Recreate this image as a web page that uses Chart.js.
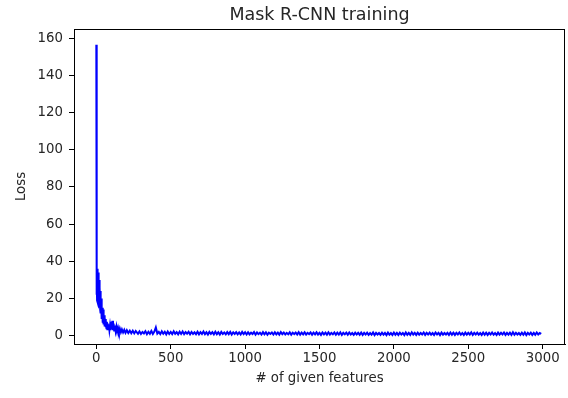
<!DOCTYPE html>
<html>
<head>
<meta charset="utf-8">
<script src="https://cdn.jsdelivr.net/npm/chart.js@4"></script>
<style>
  html, body { margin: 0; padding: 0; background: #fff; }
  #wrap { width: 568px; height: 398px; position: relative; }
</style>
</head>
<body>
<div id="wrap"><canvas id="c" width="568" height="398"></canvas></div>
<script>
// ---- data ----
const headIterations = [0,1,2,3,4,5,6,7,8,9,10,11,12,13,14,15,16,17,18,19,20,
  22,24,26,28,30,32,34,36,38,40,42,44,46,48,50,
  53,56,59,62,65,68,71,74,77,80,
  84,88,92,96,100,104,108,112,116,120,
  125,130,135,140,146,152,158,165,172,180,188,196,205,215,225,235,245,255,265];
const headLoss = [156.5,30,37,22,35,19,33,24,36,18,31,21,34,17,29,20,32,16,27,18,30,
  15,26,14,24,12,20,10,17,9,13,7,15,8,14,6,
  11,5,9,4.5,8,4,7.5,3.5,6.5,3.5,
  6,3,5.5,3,7.5,3.5,8,3,6.5,2.8,
  5.5,2.5,4.8,2.2,4.2,2,3.8,1.8,3.4,1.7,3.1,1.5,2.9,1.4,2.7,1.3,2.6,1.2,2.5];
const tailIterations = [
  280,290,300,310,320,330,340,350,360,370,380,390,400,410,420,430,440,450,460,470,
  480,490,500,510,520,530,540,550,560,570,580,590,600,610,620,630,640,650,660,670,
  680,690,700,710,720,730,740,750,760,770,780,790,800,810,820,830,840,850,860,870,
  880,890,900,910,920,930,940,950,960,970,980,990,1000,
  1010,1020,1030,1040,1050,1060,1070,1080,1090,1100,1110,1120,1130,1140,1150,1160,1170,1180,1190,1200,
  1210,1220,1230,1240,1250,1260,1270,1280,1290,1300,1310,1320,1330,1340,1350,1360,1370,1380,1390,1400,
  1410,1420,1430,1440,1450,1460,1470,1480,1490,1500,1510,1520,1530,1540,1550,1560,1570,1580,1590,1600,
  1610,1620,1630,1640,1650,1660,1670,1680,1690,1700,1710,1720,1730,1740,1750,1760,1770,1780,1790,1800,
  1810,1820,1830,1840,1850,1860,1870,1880,1890,1900,1910,1920,1930,1940,1950,1960,1970,1980,1990,2000,
  2010,2020,2030,2040,2050,2060,2070,2080,2090,2100,2110,2120,2130,2140,2150,2160,2170,2180,2190,2200,
  2210,2220,2230,2240,2250,2260,2270,2280,2290,2300,2310,2320,2330,2340,2350,2360,2370,2380,2390,2400,
  2410,2420,2430,2440,2450,2460,2470,2480,2490,2500,2510,2520,2530,2540,2550,2560,2570,2580,2590,2600,
  2610,2620,2630,2640,2650,2660,2670,2680,2690,2700,2710,2720,2730,2740,2750,2760,2770,2780,2790,2800,
  2810,2820,2830,2840,2850,2860,2870,2880,2890,2900,2910,2920,2930,2940,2950,2960,2970,2980,2990];
const tailLoss = [
  1.0,2.3,0.9,2.0,1.2,2.4,0.8,2.1,1.0,2.5,0.9,2.2,4.4,1.1,2.0,0.8,2.3,1.0,2.1,0.7,
  2.2,0.9,2.0,0.8,2.3,1.0,1.9,0.7,2.1,0.9,2.2,0.8,1.9,1.0,2.1,0.7,2.0,0.9,1.8,0.8,
  2.1,0.7,1.9,0.9,2.2,0.8,1.8,0.6,2.0,0.9,1.9,0.7,2.1,0.8,1.8,0.6,2.0,0.9,1.7,0.7,
  1.9,0.8,2.0,0.6,1.8,0.9,1.9,0.7,1.7,0.6,2.0,0.8,1.8,
  0.6,1.8,0.7,1.6,0.9,1.9,0.5,1.7,0.8,1.6,0.6,1.9,0.7,1.8,0.5,1.6,0.9,1.7,0.6,1.8,
  0.7,1.6,0.5,1.9,0.8,1.7,0.6,1.5,0.7,1.8,0.5,1.6,0.8,1.7,0.6,1.9,0.5,1.6,0.7,1.8,
  0.6,1.5,0.8,1.7,0.5,1.6,0.7,1.8,0.6,1.5,0.4,1.7,0.7,1.6,0.5,1.8,0.6,1.5,0.7,1.7,
  0.5,1.6,0.6,1.8,0.4,1.5,0.7,1.6,0.5,1.7,0.6,1.4,0.4,1.6,0.6,1.5,0.5,1.7,0.4,1.5,
  0.6,1.6,0.4,1.4,0.5,1.7,0.3,1.5,0.6,1.4,0.4,1.6,0.5,1.5,0.3,1.6,0.5,1.4,0.4,1.7,
  0.5,1.5,0.4,1.6,0.6,1.4,0.3,1.7,0.5,1.5,0.4,1.8,0.6,1.5,0.4,1.6,0.5,1.4,0.6,1.7,
  0.4,1.5,0.6,1.6,0.5,1.4,0.4,1.7,0.6,1.5,0.3,1.6,0.5,1.4,0.6,1.5,0.4,1.7,0.5,1.6,
  0.4,1.5,0.6,1.7,0.5,1.4,0.3,1.6,0.5,1.5,0.6,1.8,0.4,1.5,0.6,1.6,0.5,1.4,0.4,1.7,
  0.5,1.6,0.4,1.5,0.6,1.7,0.5,1.4,0.3,1.6,0.5,1.5,0.6,1.7,0.4,1.5,0.5,1.6,0.4,1.8,
  0.5,1.5,0.6,1.4,0.4,1.6,0.5,1.7,0.3,1.5,0.6,1.6,0.4,1.5,0.5,1.7,0.6,1.4,0.9];
const xTickValues = [0,500,1000,1500,2000,2500,3000];
const yTickValues = [0,20,40,60,80,100,120,140,160];
const chartTitle = "Mask R-CNN training";
const xAxisLabel = "# of given features";
const yAxisLabel = "Loss";

// ---- build chart ----
const iterations = headIterations.concat(tailIterations);
const loss = headLoss.concat(tailLoss);
const points = iterations.map((x, i) => ({ x: x, y: loss[i] }));

const FONT = "'DejaVu Sans', sans-serif";
const TXT = '#262626';

const framePlugin = {
  id: 'frame',
  afterDraw(chart) {
    const a = chart.chartArea, ctx = chart.ctx;
    ctx.save();
    ctx.strokeStyle = '#000';
    ctx.lineWidth = 1;
    ctx.strokeRect(Math.round(a.left) + 0.5, Math.round(a.top) + 0.5,
                   Math.round(a.right - a.left) - 1, Math.round(a.bottom - a.top));
    ctx.restore();
  }
};

new Chart(document.getElementById('c'), {
  type: 'line',
  data: {
    datasets: [{
      data: points,
      borderColor: '#0000ff',
      borderWidth: 2,
      pointRadius: 0,
      tension: 0,
      fill: false
    }]
  },
  options: {
    responsive: false,
    animation: false,
    layout: { padding: { left: 0, right: 3, top: 0, bottom: 0 } },
    plugins: {
      legend: { display: false },
      tooltip: { enabled: false },
      title: {
        display: true,
        fullSize: false,
        text: chartTitle,
        color: TXT,
        font: { family: FONT, size: 17.5, weight: 'normal', lineHeight: 1.2 },
        padding: { top: 5, bottom: 3 }
      }
    },
    scales: {
      x: {
        type: 'linear',
        min: -150, max: 3150,
        afterBuildTicks(s) { s.ticks = xTickValues.map(v => ({ value: v })); },
        afterFit(s) { s.height = 54; },
        grid: { drawOnChartArea: false, drawTicks: true, tickLength: 5, color: '#000' },
        border: { display: true, color: '#000' },
        ticks: { color: TXT, font: { family: FONT, size: 13.3 }, padding: 2, maxRotation: 0,
                 callback: v => String(v) },
        title: {
          display: true, text: xAxisLabel, color: TXT,
          font: { family: FONT, size: 13.3, lineHeight: 1.2 },
          padding: { top: 0, bottom: 11 }
        }
      },
      y: {
        type: 'linear',
        min: -4.5, max: 165,
        afterBuildTicks(s) { s.ticks = yTickValues.map(v => ({ value: v })); },
        afterFit(s) { s.width = 74; },
        grid: { drawOnChartArea: false, drawTicks: true, tickLength: 5, color: '#000' },
        border: { display: true, color: '#000' },
        ticks: { color: TXT, font: { family: FONT, size: 13.3 }, padding: 6,
                 callback: v => String(v) },
        title: {
          display: true, text: yAxisLabel, color: TXT,
          font: { family: FONT, size: 13.3, lineHeight: 1.2 },
          padding: { top: 14, bottom: 0 }
        }
      }
    }
  },
  plugins: [framePlugin]
});
</script>
</body>
</html>
